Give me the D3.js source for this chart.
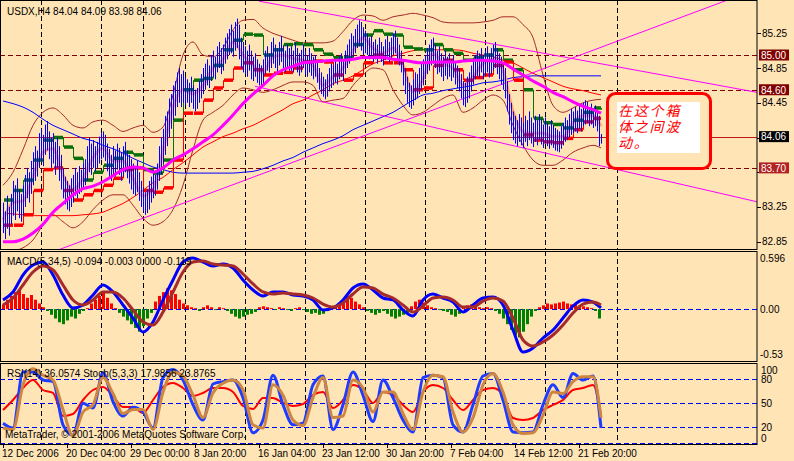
<!DOCTYPE html>
<html><head><meta charset="utf-8">
<script src="https://cdn.jsdelivr.net/npm/d3@7"></script>
<style>
html,body{margin:0;padding:0;background:#FFE4B5;}
svg{display:block;}
text{font-family:"Liberation Sans",Arial,sans-serif;font-size:10px;}
</style></head><body>
<svg id="c" width="794" height="461"></svg>
<script>
// ---------------- DATA ----------------
const barHigh = [83.30,83.20,83.38,83.25,83.40,83.55,83.50,83.58,83.45,83.40,83.50,83.62,
83.70,83.65,83.78,83.88,83.95,83.90,84.10,84.15,84.08,84.20,84.24,
84.12,84.05,84.10,84.00,84.05,83.95,
83.85,83.70,83.60,83.55,83.50,83.58,
83.62,83.70,83.65,83.72,83.68,83.75,83.80,
83.95,84.05,83.98,84.02,83.95,84.00,84.06,84.10,84.12,84.08,
83.98,83.92,83.85,83.95,83.90,83.98,83.93,83.88,83.95,84.00,83.90,83.85,
83.80,83.75,83.70,83.78,83.65,83.55,83.48,83.42,83.45,83.55,83.60,83.68,83.62,83.75,
83.95,84.05,84.15,84.30,84.35,84.50,84.55,84.65,84.70,84.80,84.85,84.78,84.82,84.75,
84.72,84.68,84.75,84.65,84.60,84.62,84.70,84.78,
84.85,84.90,84.95,84.88,85.00,85.05,84.98,85.10,85.15,85.08,85.12,85.20,85.25,
85.30,85.35,85.28,85.38,85.42,85.35,85.20,
85.15,85.10,85.05,85.12,85.05,84.98,85.02,84.95,84.90,84.88,84.95,
85.05,85.10,85.02,85.15,85.20,85.12,85.08,85.15,85.22,85.10,85.05,85.12,85.08,
85.10,85.05,85.14,85.08,85.02,85.06,85.12,85.05,85.00,85.08,85.02,84.98,85.00,
84.92,84.85,84.80,84.75,84.72,84.78,84.85,84.90,84.88,84.95,84.90,84.98,85.02,84.95,85.05,
85.12,85.18,85.25,85.22,85.30,85.35,85.40,85.38,85.32,85.28,
85.25,85.20,85.22,85.15,85.18,85.12,85.20,85.15,85.10,85.18,85.22,85.15,85.20,85.25,85.28,85.20,85.12,
85.05,84.95,84.85,84.75,84.68,84.65,84.72,84.80,84.78,84.85,84.90,84.95,
85.00,85.08,85.12,85.18,85.20,85.12,85.05,85.10,85.02,84.98,85.05,84.98,
85.02,84.95,85.00,84.92,84.88,84.85,84.78,84.70,84.68,84.75,84.80,84.88,84.95,85.00,85.05,
85.02,85.08,85.00,85.05,85.10,85.02,85.08,85.12,85.15,85.08,85.02,84.98,84.92,
84.85,84.70,84.55,84.45,84.35,84.30,84.25,84.32,
84.28,84.22,84.30,84.25,84.35,84.28,84.22,84.30,84.25,84.32,84.26,84.20,84.28,84.22,84.18,84.25,84.20,84.16,84.14,84.12,
84.18,84.22,84.28,84.25,84.32,84.38,84.35,84.40,84.36,84.42,84.38,84.45,84.48,84.46,84.40,84.44,84.38,84.42,84.35,84.30,84.09];

const barLow = [82.95,82.88,83.00,82.92,83.05,83.15,83.10,83.20,83.12,83.08,83.15,83.25,
83.35,83.30,83.40,83.50,83.55,83.60,83.70,83.78,83.72,83.85,83.90,
83.80,83.70,83.75,83.62,83.70,83.55,
83.45,83.35,83.28,83.22,83.20,83.25,
83.30,83.38,83.35,83.40,83.42,83.45,83.50,
83.55,83.65,83.62,83.70,83.66,83.70,83.75,83.80,83.82,83.78,
83.66,83.58,83.55,83.62,83.60,83.68,83.62,83.55,83.60,83.65,83.58,83.52,
83.45,83.40,83.38,83.42,83.32,83.25,83.20,83.16,83.18,83.22,83.30,83.35,83.38,83.45,
83.55,83.62,83.75,83.85,83.95,84.05,84.15,84.25,84.30,84.40,84.45,84.40,84.45,84.42,
84.45,84.40,84.45,84.38,84.35,84.38,84.45,84.50,
84.55,84.60,84.65,84.62,84.70,84.75,84.72,84.80,84.85,84.78,84.82,84.90,84.95,
85.00,85.02,84.98,85.05,85.08,84.95,84.85,
84.80,84.78,84.75,84.82,84.72,84.70,84.75,84.68,84.65,84.62,84.65,
84.78,84.82,84.80,84.85,84.90,84.85,84.80,84.88,84.92,84.85,84.80,84.84,84.82,
84.82,84.80,84.86,84.80,84.76,84.80,84.85,84.78,84.75,84.80,84.76,84.72,84.75,
84.68,84.60,84.55,84.52,84.49,84.52,84.58,84.62,84.65,84.68,84.66,84.72,84.75,84.70,84.78,
84.85,84.90,84.95,84.98,85.02,85.08,85.10,85.05,85.00,85.02,
85.00,84.95,84.98,84.92,84.95,84.90,84.96,84.92,84.88,84.94,84.98,84.92,84.96,85.00,85.02,84.95,84.88,
84.80,84.65,84.55,84.45,84.40,84.38,84.42,84.48,84.50,84.55,84.60,84.65,
84.72,84.78,84.82,84.88,84.90,84.85,84.78,84.80,84.75,84.70,84.76,84.72,
84.75,84.70,84.74,84.66,84.62,84.58,84.50,84.42,84.40,84.45,84.50,84.58,84.66,84.72,84.76,
84.74,84.80,84.72,84.76,84.80,84.74,84.78,84.82,84.85,84.78,84.72,84.66,84.60,
84.50,84.35,84.20,84.10,84.02,83.98,83.95,84.00,
83.96,83.93,84.00,83.95,84.02,83.98,83.94,84.00,83.96,84.02,83.97,83.93,83.98,83.95,83.92,83.96,83.93,83.90,83.89,83.88,
83.92,83.96,84.00,84.02,84.05,84.08,84.10,84.12,84.10,84.15,84.12,84.18,84.20,84.22,84.18,84.20,84.16,84.18,84.12,83.95,83.98];

// indicator lines, one value every 5 bars (last one = last bar)
const maBlue = [84.47,84.44,84.40,84.34,84.26,84.19,84.14,84.09,84.04,84.01,83.96,83.92,83.87,83.81,83.76,83.71,83.68,83.65,83.64,83.64,83.64,83.64,83.64,83.64,83.65,83.66,83.69,83.73,83.78,83.82,83.88,83.93,83.98,84.02,84.07,84.14,84.19,84.24,84.29,84.34,84.41,84.48,84.54,84.56,84.59,84.61,84.63,84.65,84.68,84.69,84.71,84.74,84.75,84.76,84.76,84.76,84.76,84.76,84.76,84.76,84.76];
const maMagenta = [82.85,82.85,82.88,82.95,83.05,83.19,83.29,83.39,83.46,83.49,83.54,83.61,83.68,83.71,83.70,83.65,83.70,83.79,83.85,83.92,84.00,84.08,84.19,84.31,84.44,84.55,84.65,84.76,84.83,84.87,84.91,84.92,84.93,84.94,84.94,84.95,84.97,84.97,84.97,84.95,84.94,84.92,84.91,84.92,84.92,84.92,84.93,84.94,84.94,84.93,84.91,84.84,84.77,84.70,84.64,84.57,84.52,84.46,84.41,84.37,84.33];
const maRed = [83.18,83.17,83.16,83.15,83.15,83.15,83.15,83.15,83.16,83.17,83.19,83.24,83.29,83.36,83.44,83.53,83.59,83.68,83.76,83.85,83.94,84.00,84.06,84.10,84.15,84.19,84.25,84.31,84.37,84.44,84.48,84.54,84.60,84.67,84.71,84.76,84.83,84.90,84.94,84.99,85.02,85.05,85.06,85.06,85.06,85.06,85.05,85.02,85.00,84.98,84.94,84.91,84.85,84.79,84.74,84.69,84.64,84.61,84.59,84.56,84.54];
const bandUpper = [83.50,83.65,83.91,84.19,84.34,84.39,84.31,84.19,84.16,84.23,84.25,84.19,84.12,84.16,84.19,84.11,84.17,84.54,85.00,85.15,85.00,84.98,85.08,85.29,85.40,85.41,85.31,85.25,85.21,85.17,85.14,85.14,85.14,85.16,85.27,85.40,85.46,85.45,85.40,85.44,85.46,85.48,85.46,85.43,85.38,85.37,85.37,85.37,85.38,85.40,85.44,85.44,85.35,85.20,84.77,84.42,84.34,84.39,84.45,84.48,84.49];
const bandLower = [82.75,82.75,82.78,82.87,83.04,83.16,83.08,83.01,83.08,83.22,83.33,83.39,83.39,83.27,83.12,83.04,83.08,83.22,83.50,83.91,84.25,84.34,84.42,84.54,84.62,84.60,84.57,84.60,84.65,84.69,84.69,84.65,84.46,84.48,84.50,84.65,84.77,84.85,84.83,84.60,84.42,84.31,84.34,84.42,84.50,84.54,84.34,84.39,84.48,84.54,84.48,84.19,83.96,83.79,83.73,83.73,83.79,83.88,83.93,83.96,83.93];
const stopRed = [83.04,83.04,83.16,83.44,83.68,83.70,83.44,83.33,83.39,83.44,83.50,83.58,83.68,83.70,83.44,83.42,83.47,83.79,84.33,84.33,84.48,84.62,84.71,84.85,84.91,84.83,84.77,84.79,84.80,84.85,84.92,84.93,84.92,84.77,84.71,84.77,84.91,85.00,84.91,84.91,84.83,84.60,84.62,84.88,84.94,84.83,84.71,84.74,84.77,84.88,84.92,84.71,84.08,84.02,84.00,83.99,84.04,84.14,84.23,84.27,84.27];
const stopGreen = [83.33,83.44,83.56,83.79,84.02,84.05,83.94,83.81,83.56,83.65,83.73,83.81,83.88,83.85,83.68,83.64,83.79,84.25,84.60,84.71,84.73,84.88,85.06,85.17,85.24,85.23,85.00,85.06,85.12,85.13,85.12,85.06,85.01,84.97,84.97,85.12,85.23,85.28,85.24,85.23,85.09,85.07,85.06,85.12,85.06,85.02,84.94,84.97,85.00,85.06,84.94,84.83,84.60,84.27,84.22,84.20,84.16,84.25,84.34,84.39,84.37];
const maSalmon = [83.10,83.30,83.32,83.60,83.88,83.92,83.62,83.45,83.58,83.82,83.93,83.78,83.78,83.58,83.38,83.45,83.90,84.40,84.60,84.55,84.65,84.85,84.95,85.15,85.00,84.88,84.80,84.98,85.00,84.96,84.94,84.88,84.65,84.75,84.85,85.05,85.20,85.08,85.02,85.08,84.88,84.58,84.72,85.02,84.90,84.85,84.65,84.75,84.90,84.95,84.82,84.35,84.12,84.10,84.10,84.06,84.06,84.22,84.30,84.30,84.18];

const macdMain = [0.097,0.182,0.362,0.468,0.500,0.362,0.150,0.012,0.044,0.150,0.256,0.182,0.044,-0.095,-0.243,-0.137,0.097,0.309,0.500,0.543,0.500,0.458,0.479,0.437,0.309,0.203,0.139,0.182,0.182,0.150,0.139,0.097,-0.010,0.012,0.097,0.224,0.267,0.203,0.118,0.097,-0.010,-0.073,0.097,0.160,0.118,0.075,-0.031,0.044,0.118,0.128,0.044,-0.222,-0.456,-0.413,-0.307,-0.222,-0.095,0.033,0.097,0.075,0.012];
const macdSignal = [0.044,0.118,0.256,0.394,0.458,0.415,0.256,0.097,0.044,0.097,0.182,0.182,0.118,-0.010,-0.137,-0.169,-0.031,0.182,0.394,0.500,0.511,0.479,0.468,0.458,0.373,0.267,0.182,0.160,0.171,0.160,0.150,0.118,0.054,0.022,0.065,0.160,0.235,0.224,0.160,0.118,0.044,-0.031,0.033,0.118,0.128,0.097,0.022,0.022,0.086,0.118,0.086,-0.095,-0.328,-0.392,-0.349,-0.275,-0.169,-0.042,0.054,0.075,0.044];
// histogram, one value every 2 bars
const macdHist = [0.05,0.10,0.14,0.18,0.20,0.16,0.12,0.15,0.10,0.06,
0.02,-0.02,-0.06,-0.10,-0.14,-0.16,-0.12,-0.08,-0.10,-0.05,-0.02,0.01,
0.06,0.10,0.14,0.18,0.12,0.06,0.01,
-0.04,-0.08,-0.12,-0.16,-0.20,-0.24,-0.18,-0.10,-0.04,
0.08,0.14,0.18,0.22,0.20,0.16,0.10,0.06,
0.04,0.02,0.01,-0.02,0.02,0.04,0.02,-0.01,0.02,0.01,
-0.02,-0.05,-0.08,-0.10,-0.08,-0.06,-0.05,-0.03,0.02,0.03,
0.02,0.01,-0.01,0.02,0.01,-0.01,-0.02,0.01,0.02,-0.01,-0.03,-0.05,-0.04,-0.06,
-0.05,-0.02,0.02,0.04,0.06,0.10,0.14,0.12,0.08,
0.05,0.02,-0.02,-0.04,-0.06,-0.04,-0.02,-0.05,-0.08,-0.10,-0.08,-0.06,
-0.04,0.03,0.08,0.10,0.07,0.04,0.02,0.01,-0.01,-0.02,
-0.03,-0.06,-0.08,-0.05,0.02,0.04,0.05,0.03,0.02,0.01,
0.02,0.01,-0.02,-0.05,-0.10,-0.16,-0.22,-0.28,-0.30,-0.24,
-0.16,-0.08,-0.02,0.02,0.04,0.06,0.05,0.06,0.07,0.08,
0.06,0.05,0.06,0.04,0.03,0.02,0.01,-0.02,-0.10];

const rsiVals = [42.5,55,70,80,67.5,63.8,35,37.5,55,67.5,71.3,60,46.3,46.3,38.8,55,71.3,76.3,70,60,63.8,70,70,65,47.5,43.8,57.5,57.5,51.3,47.5,50,61.3,65,45,55,73.8,67.5,51.3,65,61.3,48.8,40,65,73.8,70,55,42.5,55,67.5,70,61.3,32.5,30,32.5,42.5,48.8,55,67.5,70,73.8,36.1];
const stochMain = [26,20,90,90,80,78,24,11,51,45,89,53,35,46,40,20,83,93,80,49,30,75,78,80,58,14,30,86,49,24,26,74,85,18,49,90,61,28,80,58,30,15,83,86,83,24,15,49,85,88,55,15,14,15,49,74,58,88,80,85,20];
const stochSignal = [20,18,74,94,86,80,43,10,40,49,83,63,38,43,43,18,65,90,85,61,33,64,76,80,68,24,20,74,61,30,23,58,83,33,35,80,70,40,65,65,38,18,65,86,84,40,15,33,74,88,65,24,13,14,36,65,63,78,84,84,33];

const priceTicks = [85.25,84.85,84.45,84.05,83.65,83.25,82.85];
const priceTickLabels = ["85.25","84.85","84.45","","","83.25","82.85"];
const dashedLevels = [85.00,84.60,83.70];
const levelColors = ["#800000","#800000","#B22222"];
const bidPrice = 84.06;
const trendLines = [[27,82.75,377,85.76],[128,85.62,377,84.57],[126,84.64,377,83.31]];
const weekIdx = [19,49,70,91,121,151,181,211,241,271,307];
const timeIdx = [0,32,64,96,128,160,192,224,256,288];
const timeLabels = ["12 Dec 2006","20 Dec 04:00","29 Dec 00:00","8 Jan 20:00","16 Jan 04:00","23 Jan 12:00","30 Jan 20:00","7 Feb 04:00","14 Feb 12:00","21 Feb 20:00"];
const rsiLevels = [80,50,20,0];
const rsiAxisLabels = ["100","80","50","20","0"];
const macdAxisLabels = ["0.596","0.00","-0.53"];
const headerMain = "USDX,H4 84.04 84.09 83.98 84.06";
const headerMacd = "MACD(5,34,5) -0.094 -0.003 0.000 -0.119";
const headerRsi = "RSI(14) 36.0574  Stoch(5,3,3) 17.9856 23.8765";
const noteLines = ["在这个箱","体之间波","动。"];

// ---------------- DRAW ----------------
const W = 794, H = 461, R = 757;
const svg = d3.select("#c");
svg.append("rect").attr("width", W).attr("height", H).attr("fill", "#FFE4B5");

const lineIdx = d3.range(0, 300, 5).concat([299]);
const histIdx = d3.range(0, 300, 2);
const x = d3.scaleLinear().domain([0, 299]).range([3, 601]);
const yP = d3.scaleLinear().domain([82.85, 85.25]).range([241.7, 33.3]);
const yM = d3.scaleLinear().domain([-0.53, 0.596]).range([359, 253]);
const yR = d3.scaleLinear().domain([0, 100]).range([444, 364]);

const panels = [{id:"pm", top:0, bot:249}, {id:"pd", top:251, bot:361}, {id:"pr", top:363, bot:444}];
const defs = svg.append("defs");
panels.forEach(p => {
  defs.append("clipPath").attr("id", p.id).append("rect")
    .attr("x", 0).attr("y", p.top).attr("width", R).attr("height", p.bot - p.top);
});
const gM = svg.append("g").attr("clip-path", "url(#pm)");
const gD = svg.append("g").attr("clip-path", "url(#pd)");
const gR = svg.append("g").attr("clip-path", "url(#pr)");

// week separators
[[gM,0,249],[gD,251,361],[gR,363,444]].forEach(([g,t,b]) => {
  g.selectAll(null).data(weekIdx).enter().append("line")
    .attr("x1", d => x(d) + 0.5).attr("x2", d => x(d) + 0.5)
    .attr("y1", t).attr("y2", b)
    .attr("stroke", "#000").attr("stroke-width", 1).attr("stroke-dasharray", "5,3");
});

// main: horizontal levels
gM.selectAll(null).data(dashedLevels).enter().append("line")
  .attr("x1", 0).attr("x2", R).attr("y1", d => Math.round(yP(d)) + 0.5).attr("y2", d => Math.round(yP(d)) + 0.5)
  .attr("stroke", "#800000").attr("stroke-dasharray", "5,3");
gM.append("line").attr("x1", 0).attr("x2", R)
  .attr("y1", Math.round(yP(bidPrice)) + 0.5).attr("y2", Math.round(yP(bidPrice)) + 0.5)
  .attr("stroke", "#C01818");

const mkLine = (sc) => d3.line().x((d, i) => x(lineIdx[i])).y(d => sc(d)).curve(d3.curveMonotoneX);
const pl = mkLine(yP);

function path(g, data, gen, color, w) {
  g.append("path").datum(data).attr("d", gen).attr("fill", "none")
    .attr("stroke", color).attr("stroke-width", w).attr("stroke-linejoin", "round");
}
path(gM, bandUpper, pl, "#A52A2A", 1);
path(gM, bandLower, pl, "#A52A2A", 1);
path(gM, maRed, pl, "#FF0000", 1);
path(gM, maBlue, pl, "#0000FF", 1);

// trend lines
gM.selectAll(null).data(trendLines).enter().append("line")
  .attr("x1", d => x(d[0])).attr("y1", d => yP(d[1]))
  .attr("x2", d => x(d[2])).attr("y2", d => yP(d[3]))
  .attr("stroke", "#FF00FF").attr("stroke-width", 1);

path(gM, maSalmon, pl, "#FFA07A", 3);

// step stop lines: thick horizontal pieces, thin vertical joins
function stepLine(g, vals, color) {
  const seg = d3.range(vals.length - 1);
  g.selectAll(null).data(seg).enter().append("line")
    .attr("x1", i => x(lineIdx[i + 1]) + 0.5).attr("x2", i => x(lineIdx[i + 1]) + 0.5)
    .attr("y1", i => yP(vals[i])).attr("y2", i => yP(vals[i + 1]))
    .attr("stroke", color).attr("stroke-width", 1);
  g.selectAll(null).data(seg).enter().append("line")
    .attr("x1", i => x(lineIdx[i]) + 1).attr("x2", i => x(lineIdx[i + 1]))
    .attr("y1", i => yP(vals[i])).attr("y2", i => yP(vals[i]))
    .attr("stroke", color).attr("stroke-width", 3.5);
}
stepLine(gM, stopGreen, "#0A700A");
stepLine(gM, stopRed, "#FF0000");

// bars
gM.selectAll(null).data(barHigh).enter().append("line")
  .attr("x1", (d, i) => x(i) + 0.5).attr("x2", (d, i) => x(i) + 0.5)
  .attr("y1", d => yP(d)).attr("y2", (d, i) => yP(barLow[i]))
  .attr("stroke", "#0000FF").attr("stroke-width", 1);

path(gM, maMagenta, pl, "#FF00FF", 3);

// annotation
const note = gM.append("g");
note.append("rect").attr("x", 607.5).attr("y", 93.5).attr("width", 103).attr("height", 75).attr("rx", 8)
  .attr("fill", "#FFE4B5").attr("stroke", "#FF0000").attr("stroke-width", 3);
note.append("rect").attr("x", 617).attr("y", 102).attr("width", 83).attr("height", 51).attr("fill", "#FFFFFF");
note.selectAll(null).data(noteLines).enter().append("text")
  .attr("x", 618).attr("y", (d, i) => 116 + i * 16)
  .style("font-family", '"Liberation Sans","Noto Sans CJK SC",sans-serif').style("font-size", "14px")
  .style("letter-spacing", "1.8px")
  .style("font-style", "italic").attr("fill", "#FF0000").text(d => d);

// MACD panel
gD.append("line").attr("x1", 0).attr("x2", R).attr("y1", Math.round(yM(0)) + 0.5).attr("y2", Math.round(yM(0)) + 0.5)
  .attr("stroke", "#0000FF").attr("stroke-dasharray", "5,3");
gD.selectAll(null).data(macdHist).enter().append("rect")
  .attr("x", (d, i) => x(histIdx[i]) - 1).attr("width", 3)
  .attr("y", d => yM(Math.max(0, d))).attr("height", d => Math.abs(yM(d) - yM(0)))
  .attr("fill", d => d >= 0 ? "#FF0000" : "#008000");
const ml = mkLine(yM);
path(gD, macdMain, ml, "#0000FF", 3);
path(gD, macdSignal, ml, "#A52A2A", 3);

// RSI / Stoch panel
gR.selectAll(null).data(rsiLevels).enter().append("line")
  .attr("x1", 0).attr("x2", R).attr("y1", d => Math.round(yR(d)) - 0.5).attr("y2", d => Math.round(yR(d)) - 0.5)
  .attr("stroke", "#0000FF").attr("stroke-dasharray", "5,3");
const rl = mkLine(yR);
path(gR, rsiVals, rl, "#FF0000", 2);
path(gR, stochMain, rl, "#1E3CFF", 3);
path(gR, stochSignal, rl, "#CD853F", 3);

// borders
panels.forEach(p => {
  svg.append("rect").attr("x", 0.5).attr("y", p.top + 0.5).attr("width", R - 0.5).attr("height", p.bot - p.top)
    .attr("fill", "none").attr("stroke", "#000");
});

// price axis
svg.selectAll(null).data(priceTicks).enter().append("line")
  .attr("x1", R).attr("x2", R + 4).attr("y1", d => Math.round(yP(d)) + 0.5).attr("y2", d => Math.round(yP(d)) + 0.5)
  .attr("stroke", "#000");
svg.selectAll(null).data(priceTicks).enter().append("text")
  .attr("x", R + 5).attr("y", d => yP(d) + 3.5).attr("fill", "#000").text((d, i) => priceTickLabels[i]);
const lv = dashedLevels.map((v, i) => ({v, c: levelColors[i]})).concat([{v: bidPrice, c: "#000000"}]);
lv.forEach(o => {
  svg.append("rect").attr("x", R + 2).attr("y", yP(o.v) - 5.5).attr("width", 30).attr("height", 11).attr("fill", o.c);
  svg.append("text").attr("x", R + 4).attr("y", yP(o.v) + 3.8).attr("fill", "#fff").text(o.v.toFixed(2));
});

// MACD axis
const macdLabelY = [yM(0.596) + 9, yM(0) + 3.5, yM(-0.53) - 1];
svg.selectAll(null).data(macdAxisLabels).enter().append("text")
  .attr("x", R + 3).attr("y", (d, i) => macdLabelY[i]).text(d => d);
// RSI axis
const rsiLabelY = [yR(100) + 9.5, yR(80) + 3, yR(50) + 3, yR(20) + 3, yR(0) - 2];
svg.selectAll(null).data(rsiAxisLabels).enter().append("text")
  .attr("x", R + 4).attr("y", (d, i) => rsiLabelY[i]).text(d => d);

// time axis
svg.selectAll(null).data(timeIdx).enter().append("line")
  .attr("x1", d => x(d) + 0.5).attr("x2", d => x(d) + 0.5).attr("y1", 444).attr("y2", 448).attr("stroke", "#000");
svg.selectAll(null).data(timeIdx).enter().append("text")
  .attr("x", d => x(d) - 1).attr("y", 457).text((d, i) => timeLabels[i]);

// headers
svg.append("text").attr("x", 7).attr("y", 15).text(headerMain);
svg.append("text").attr("x", 7).attr("y", 265).text(headerMacd);
svg.append("text").attr("x", 7).attr("y", 377).text(headerRsi);
svg.append("text").attr("x", 5).attr("y", 438).text("MetaTrader, \u00A9 2001-2006 MetaQuotes Software Corp.");
</script>
</body></html>
